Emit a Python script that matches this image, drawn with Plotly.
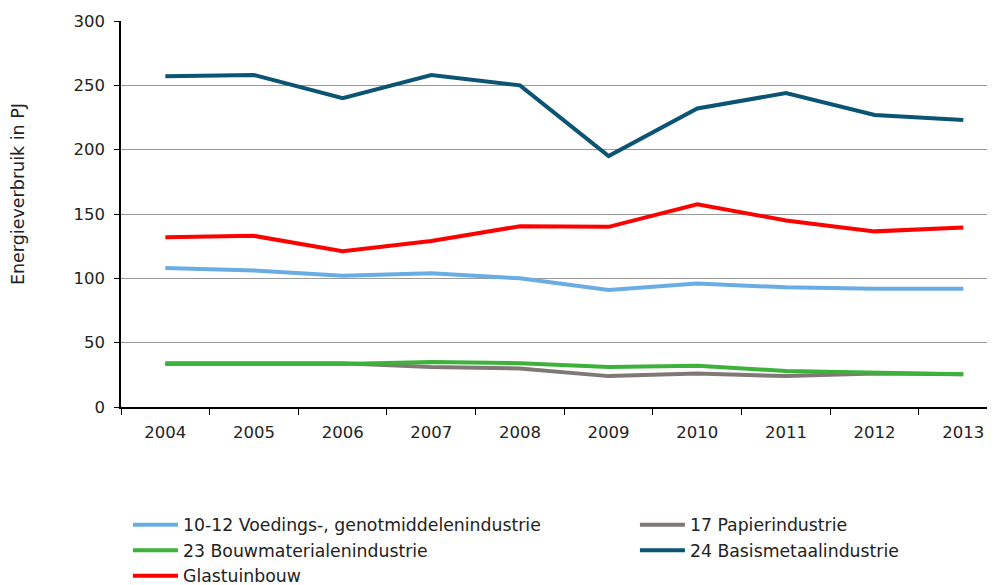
import plotly.graph_objects as go

years = ["2004", "2005", "2006", "2007", "2008", "2009", "2010", "2011", "2012", "2013"]
voedings = [108, 106, 102, 104, 100, 91, 96, 93, 92, 92]
papier = [34, 34, 34, 31, 30, 24, 26, 24, 26, 25.5]
bouwmat = [33.5, 33.5, 33.5, 35, 34, 31, 32, 28, 27, 25.5]
basismetaal = [257, 258, 240, 258, 250, 195, 232, 244, 227, 223]
glastuinbouw = [132, 133, 121, 129, 140.5, 140, 157.5, 145, 136.5, 139.5]
y_title = "Energieverbruik in PJ"

# (name, values, colour, legend column)
series = [
    ("10-12 Voedings-, genotmiddelenindustrie", voedings, "#6AACE4", "legend"),
    ("17 Papierindustrie", papier, "#7F7874", "legend2"),
    ("23 Bouwmaterialenindustrie", bouwmat, "#3DB23B", "legend"),
    ("24 Basismetaalindustrie", basismetaal, "#0B5473", "legend2"),
    ("Glastuinbouw", glastuinbouw, "#FF0000", "legend"),
]

fig = go.Figure()
for name, vals, col, leg in series:
    fig.add_trace(go.Scatter(x=years, y=vals, name=name, mode="lines", legend=leg,
                             legendgroup=name,
                             line=dict(color=col, width=4)))

font = "DejaVu Sans, Verdana, sans-serif"
legfont = dict(size=17.3, family=font, color="#222")
common_leg = dict(orientation="v", xanchor="left", yref="container", yanchor="top",
                  itemwidth=45, font=legfont, tracegroupgap=0, bgcolor="rgba(0,0,0,0)")
fig.update_layout(
    width=987, height=577,
    margin=dict(l=113, r=0, t=13, b=178, autoexpand=False),
    paper_bgcolor="white", plot_bgcolor="white",
    font=dict(family=font, size=16, color="#222"),
    showlegend=True,
    legend=dict(x=0.008, y=0.1352, **common_leg),
    legend2=dict(x=0.588, y=0.1352, **common_leg),
    xaxis=dict(type="category", range=[-0.5, 9.358], showline=True, linecolor="black", linewidth=1.5,
               ticks="outside", tickson="boundaries", ticklen=6, tickcolor="black",
               showgrid=False, tickfont=dict(size=16.5), ticklabelstandoff=9, automargin=False),
    yaxis=dict(range=[0, 300], dtick=50, showline=True, linecolor="black", linewidth=1.5,
               ticks="outside", ticklen=5, tickcolor="black",
               gridcolor="#999999", gridwidth=1, zeroline=False,
               tickfont=dict(size=16.5), ticklabelstandoff=6, automargin=False),
    annotations=[dict(text=y_title, xref="paper", yref="paper", x=-0.1178, y=0.5518,
                      xanchor="center", yanchor="middle", textangle=-90, showarrow=False,
                      font=dict(size=17.5, family=font, color="#222"))],
)
fig.write_html("out.html")
